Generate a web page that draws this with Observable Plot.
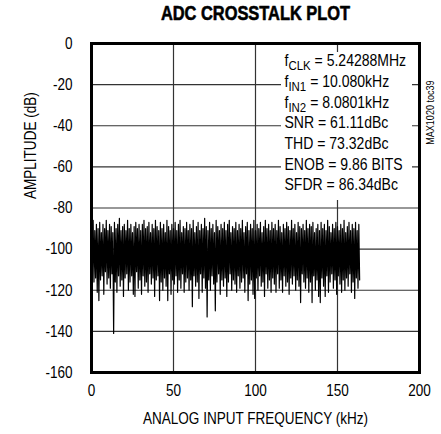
<!DOCTYPE html>
<html><head><meta charset="utf-8">
<script src="https://cdn.jsdelivr.net/npm/d3@7"></script>
<script src="https://cdn.jsdelivr.net/npm/@observablehq/plot@0.6"></script>
<style>
html,body{margin:0;padding:0;background:#fff;}
</style></head><body><div id="chart"></div>
<script>
const title = "ADC CROSSTALK PLOT";
const xLabel = "ANALOG INPUT FREQUENCY (kHz)";
const yLabel = "AMPLITUDE (dB)";
const figureId = "MAX1020 toc39";
const xTicks = [0, 50, 100, 150, 200];
const yTicks = [0, -20, -40, -60, -80, -100, -120, -140, -160];
const binWidthKHz = 0.5;
const amplitudeDb = [
-89,-112,-86,-116,-91,-114,-88,-121,-90,-125,-87,-115,-92,-113,-88,-122,-90,-111,-86,-117,
-91,-114,-88,-119,-89,-112,-92,-141,-87,-116,-90,-121,-88,-113,-85,-118,-91,-115,-89,-123,
-88,-114,-91,-112,-86,-120,-90,-116,-88,-113,-92,-122,-89,-123,-87,-111,-90,-119,-88,-115,
-91,-122,-88,-113,-86,-118,-90,-116,-89,-121,-87,-112,-92,-117,-88,-114,-90,-123,-86,-115,
-89,-113,-91,-125,-87,-116,-90,-120,-88,-114,-92,-118,-86,-125,-89,-112,-91,-122,-88,-115,
-90,-117,-87,-113,-91,-121,-88,-115,-86,-119,-92,-112,-89,-121,-90,-116,-87,-114,-91,-120,
-88,-115,-90,-128,-86,-113,-92,-118,-89,-116,-87,-124,-91,-112,-88,-121,-90,-114,-85,-119,
-89,-133,-91,-115,-87,-120,-90,-113,-88,-117,-92,-130,-86,-116,-89,-112,-91,-122,-88,-115,
-90,-118,-87,-114,-91,-123,-88,-116,-86,-112,-92,-120,-89,-115,-90,-117,-87,-121,-91,-113,
-88,-119,-90,-116,-86,-114,-92,-121,-89,-112,-87,-125,-91,-117,-88,-115,-90,-122,-86,-124,
-91,-114,-88,-120,-90,-113,-87,-118,-92,-116,-89,-123,-86,-112,-90,-119,-88,-115,-91,-121,
-87,-114,-90,-117,-88,-121,-91,-112,-86,-119,-89,-115,-92,-121,-88,-113,-90,-118,-87,-116,
-89,-122,-91,-114,-86,-117,-90,-113,-88,-120,-92,-115,-87,-118,-89,-126,-90,-112,-88,-116,
-91,-119,-86,-114,-90,-121,-88,-116,-89,-126,-87,-113,-92,-120,-90,-115,-88,-123,-91,-126,
-87,-114,-90,-118,-88,-123,-91,-113,-86,-121,-89,-116,-92,-112,-88,-119,-90,-115,-87,-122,
-89,-113,-91,-117,-88,-121,-90,-115,-86,-120,-92,-114,-89,-118,-87,-112,-91,-121,-88,-116,
-90,-124,-87,-114,-91,-119,-88,-115
];
const annotations = [
  {base: "f", sub: "CLK", rest: " = 5.24288MHz"},
  {base: "f", sub: "IN1", rest: " = 10.080kHz"},
  {base: "f", sub: "IN2", rest: " = 8.0801kHz"},
  {base: "SNR = 61.11dBc", sub: "", rest: ""},
  {base: "THD = 73.32dBc", sub: "", rest: ""},
  {base: "ENOB = 9.86 BITS", sub: "", rest: ""},
  {base: "SFDR = 86.34dBc", sub: "", rest: ""}
];

const spectrum = amplitudeDb.map((a, i) => ({freq: i * binWidthKHz, amp: a}));
const font = "'Liberation Sans', Arial, sans-serif";
const full = d => d.base + d.sub + d.rest;

function annotBox(...args) {
  const dims = args.find(a => a && typeof a === "object" && "marginLeft" in a && "width" in a);
  const r = document.createElementNS("http://www.w3.org/2000/svg", "rect");
  const right = dims.width - dims.marginRight;
  r.setAttribute("x", right - 138);
  r.setAttribute("width", 131);
  r.setAttribute("y", dims.marginTop + 9);
  r.setAttribute("height", 148);
  r.setAttribute("fill", "#fff");
  return r;
}

const plot = Plot.plot({
  width: 441, height: 434,
  marginTop: 43, marginLeft: 91, marginRight: 22, marginBottom: 62,
  style: {fontFamily: font, fontSize: "16.5px", color: "#000", background: "#fff"},
  x: {domain: [0, 200]},
  y: {domain: [-160, 0]},
  marks: [
    Plot.gridX(xTicks.slice(1, -1), {stroke: "#333", strokeOpacity: 1, strokeWidth: 1.2}),
    Plot.gridY(yTicks.slice(1, -1), {stroke: "#333", strokeOpacity: 1, strokeWidth: 1.2}),
    Plot.line(spectrum, {x: "freq", y: "amp", stroke: "#000", strokeWidth: 1.2}),
    annotBox,
    ...annotations.map((a, i) => Plot.text([a], {
      frameAnchor: "top-right", text: full, textAnchor: "start", lineAnchor: "middle",
      dx: -135, dy: 17.5 + i * 20.7, fontSize: 16.5, fill: "#000"
    })),
    Plot.frame({stroke: "#000", strokeWidth: 3}),
    Plot.axisX(xTicks, {tickSize: 0, tickPadding: 12, label: null, tickFormat: d => String(d)}),
    Plot.axisY(yTicks, {tickSize: 0, tickPadding: 19, label: null, tickFormat: d => String(d)}),
    Plot.text([xLabel], {frameAnchor: "bottom", lineAnchor: "middle", dy: 46, text: d => d, fontSize: 16.5, fill: "#000"}),
    Plot.text([yLabel], {frameAnchor: "left", lineAnchor: "middle", rotate: -90, dx: -61, dy: -9, text: d => d, fontSize: 16.5, fill: "#000"}),
    Plot.text([title], {frameAnchor: "top", lineAnchor: "middle", dy: -30, text: d => d, fontSize: 20, fontWeight: "bold", fill: "#000", stroke: "#000", strokeWidth: 0.6}),
    Plot.text([figureId], {frameAnchor: "top-right", lineAnchor: "middle", rotate: -90, dx: 11, dy: 37, text: d => d, fontSize: 11, fill: "#000"})
  ]
});

// annotation texts: mark them and add subscripts
const svgns = "http://www.w3.org/2000/svg";
const annotTexts = new Set(annotations.map(full));
plot.querySelectorAll("text").forEach(el => {
  if (!annotTexts.has(el.textContent)) return;
  el.setAttribute("data-annot", "1");
  const a = annotations.find(d => full(d) === el.textContent);
  if (!a.sub) return;
  el.textContent = "";
  const t1 = document.createElementNS(svgns, "tspan"); t1.textContent = a.base;
  const t2 = document.createElementNS(svgns, "tspan"); t2.textContent = a.sub;
  t2.setAttribute("font-size", "13.5"); t2.setAttribute("dy", "4");
  const t3 = document.createElementNS(svgns, "tspan"); t3.textContent = a.rest;
  t3.setAttribute("dy", "-4");
  el.append(t1, t2, t3);
});
document.getElementById("chart").append(plot);
// condensed look (Helvetica Narrow style)
plot.querySelectorAll("text").forEach(el => {
  const k = el.hasAttribute("data-annot") ? 0.85 : 0.82;
  if (el.querySelector("tspan")) {
    // squeeze the whole line, then shift it back so its left edge stays put
    const left0 = el.getBoundingClientRect().left;
    const g = document.createElementNS(svgns, "g");
    g.setAttribute("transform", `scale(${k},1)`);
    el.parentNode.insertBefore(g, el);
    g.appendChild(el);
    const left1 = el.getBoundingClientRect().left;
    g.setAttribute("transform", `translate(${(left0 - left1).toFixed(2)},0) scale(${k},1)`);
  } else {
    const len = el.getComputedTextLength();
    if (len > 0) {
      el.setAttribute("textLength", (len * k).toFixed(2));
      el.setAttribute("lengthAdjust", "spacingAndGlyphs");
    }
  }
});
</script>
</body></html>
